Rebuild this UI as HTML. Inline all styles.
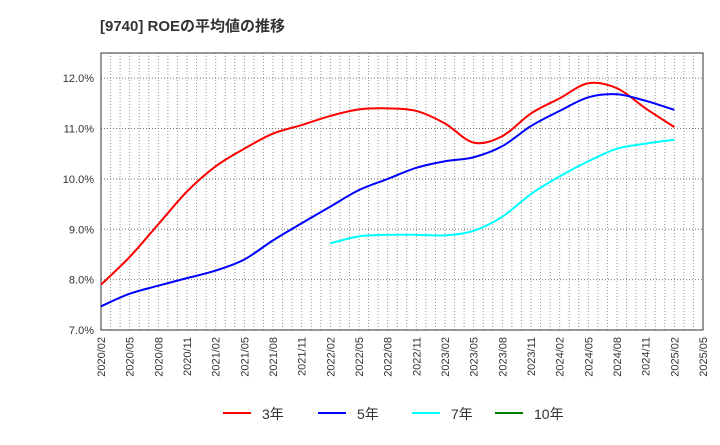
<!DOCTYPE html>
<html><head><meta charset="utf-8"><style>
body{margin:0;background:#fff;font-family:"Liberation Sans","Noto Sans CJK JP",sans-serif;}
</style></head><body>
<svg width="720" height="440" id="c" xmlns="http://www.w3.org/2000/svg" font-family="Liberation Sans, Noto Sans CJK JP, sans-serif">
<text x="100" y="31" font-size="15" font-weight="bold" fill="#333">[9740]  ROEの平均値の推移</text>
</svg>
<script>
const xLabels=["2020/02","2020/05","2020/08","2020/11","2021/02","2021/05","2021/08","2021/11","2022/02","2022/05","2022/08","2022/11","2023/02","2023/05","2023/08","2023/11","2024/02","2024/05","2024/08","2024/11","2025/02","2025/05"];
const yTicks=[7,8,9,10,11,12];
const s3=[7.9,8.45,9.1,9.75,10.25,10.6,10.9,11.07,11.25,11.38,11.4,11.35,11.1,10.72,10.85,11.3,11.6,11.9,11.8,11.4,11.03];
const s5=[7.47,7.72,7.88,8.03,8.18,8.4,8.78,9.12,9.45,9.78,10.0,10.22,10.35,10.43,10.65,11.05,11.35,11.62,11.68,11.55,11.37];
const s7=[null,null,null,null,null,null,null,null,8.72,8.86,8.89,8.89,8.88,8.97,9.25,9.7,10.05,10.35,10.6,10.7,10.78];
const s10=[];
const L=101,R=703,T=53,B=330,ymin=7,ymax=12.5;
const sx=i=>L+i*(R-L)/21, sy=v=>B-(v-ymin)/(ymax-ymin)*(B-T);
const svg=document.getElementById('c');const NS='http://www.w3.org/2000/svg';
function mk(t,a,p){const e=document.createElementNS(NS,t);for(const k in a)e.setAttribute(k,a[k]);(p||svg).appendChild(e);return e;}
const bg=mk('rect',{x:L,y:T,width:R-L,height:B-T,fill:'#fff'});


for(let m=1;m<63;m++){const x=L+m*(R-L)/63;const g=mk('line',{x1:x,x2:x,y1:T,y2:B,stroke:'#999','stroke-dasharray':'1,2','stroke-width':1});

}
yTicks.forEach(v=>{const y=sy(v);const g=mk('line',{x1:L,x2:R,y1:y,y2:y,stroke:'#777','stroke-dasharray':'1,2','stroke-width':1});


const t=mk('text',{x:L-7,y:y+4,'font-size':11,'text-anchor':'end',fill:'#333'});t.textContent=v.toFixed(1)+'%';

});
xLabels.forEach((lb,i)=>{const x=sx(i);const t=mk('text',{x:0,y:0,'font-size':11,'text-anchor':'end',fill:'#333',transform:`translate(${x+4},337) rotate(-90)`});t.textContent=lb;

});
const fr=mk('rect',{x:L,y:T,width:R-L,height:B-T,fill:'none',stroke:'#333','stroke-width':1});


function path(arr){const p=[];arr.forEach((v,i)=>{if(v!=null)p.push([sx(i),sy(v)]);});if(!p.length)return'';
let d=`M${p[0][0]},${p[0][1]}`;for(let i=0;i<p.length-1;i++){const p0=p[i-1]||p[i],p1=p[i],p2=p[i+1],p3=p[i+2]||p2;
d+=` C${p1[0]+(p2[0]-p0[0])/6},${p1[1]+(p2[1]-p0[1])/6} ${p2[0]-(p3[0]-p1[0])/6},${p2[1]-(p3[1]-p1[1])/6} ${p2[0]},${p2[1]}`;}return d;}
[[s3,'#ff0000','line-3yr'],[s5,'#0000ff','line-5yr'],[s7,'#00ffff','line-7yr'],[s10,'#008000','line-10yr']].forEach(([a,c,n])=>{const d=path(a);if(!d)return;const e=mk('path',{d:d,fill:'none',stroke:c,'stroke-width':2});

});
[['3年','#ff0000',223],['5年','#0000ff',318],['7年','#00ffff',412],['10年','#008000',495]].forEach(([lb,c,x])=>{const g=mk('g',{});


mk('line',{x1:x,x2:x+28,y1:413,y2:413,stroke:c,'stroke-width':2},g);const t=mk('text',{x:x+39,y:419,'font-size':14,fill:'#333'},g);t.textContent=lb;});
</script>
</body></html>
